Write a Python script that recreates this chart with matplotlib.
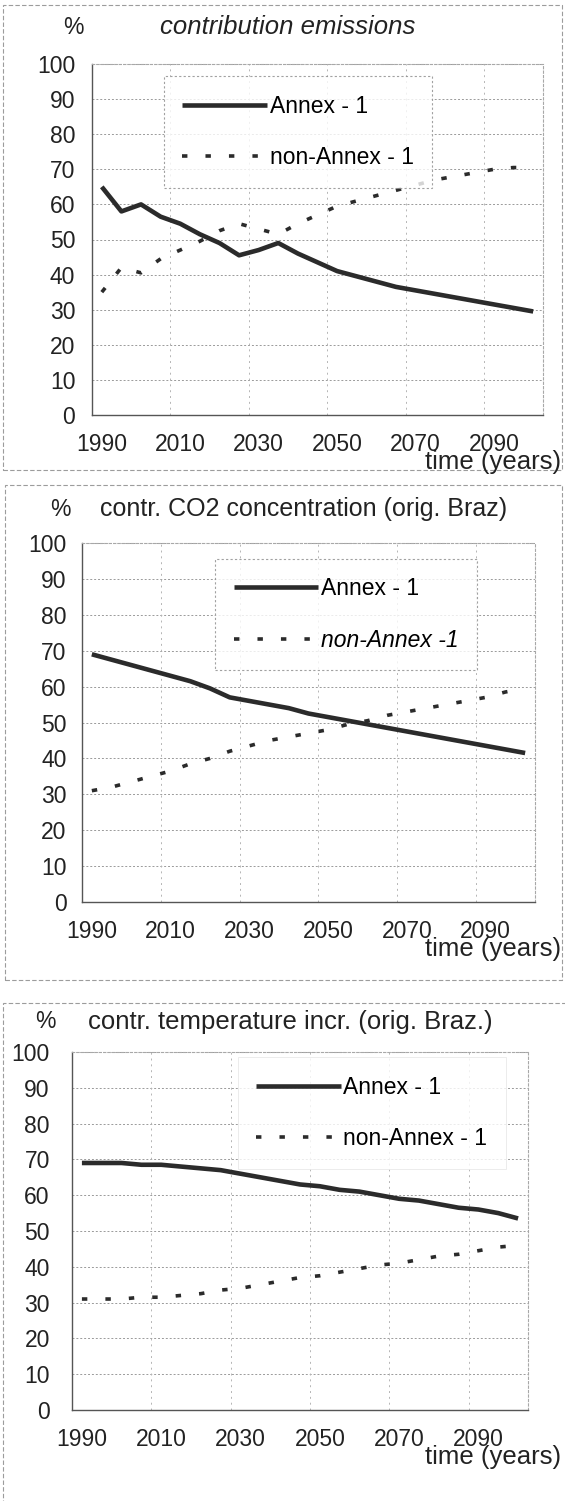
import matplotlib
matplotlib.use("Agg")
import matplotlib.pyplot as plt
from matplotlib.patches import Rectangle

plt.rcParams["font.family"] = ["Liberation Sans", "DejaVu Sans"]

# data (5-year steps)
years = list(range(1990, 2101, 5))

emis_annex = [65, 58, 60, 56.5, 54.5, 51.5, 49, 45.5, 47, 49, 46, 43.5, 41,
              39.5, 38, 36.5, 35.5, 34.5, 33.5, 32.5, 31.5, 30.5, 29.5]
emis_non_annex = [35, 42, 40.5, 44.5, 47, 49.5, 52.5, 54.5, 53, 51.5, 54.5, 57, 59.5,
                  61, 62.5, 64, 65.5, 67, 68, 69, 70, 70.5, 70.5]

co2_annex = [69, 67.5, 66, 64.5, 63, 61.5, 59.5, 57, 56, 55, 54, 52.5, 51.5,
             50.5, 49.5, 48.5, 47.5, 46.5, 45.5, 44.5, 43.5, 42.5, 41.5]
co2_non_annex = [31, 32, 33.5, 35, 36.5, 38.5, 40, 42, 43.5, 45, 46, 47, 48,
                 49.5, 50.5, 52, 53, 54, 55, 56, 57, 58.5, 59.5]

temp_annex = [69, 69, 69, 68.5, 68.5, 68, 67.5, 67, 66, 65, 64, 63, 62.5,
              61.5, 61, 60, 59, 58.5, 57.5, 56.5, 56, 55, 53.5]
temp_non_annex = [31, 31, 31, 31.5, 31.5, 32, 32.5, 33.5, 34, 35, 36, 37, 37.5,
                  38.5, 39.5, 40.5, 41, 42, 43, 43.5, 44.5, 45.5, 46]

x_ticks = [1990, 2010, 2030, 2050, 2070, 2090]
y_ticks = list(range(0, 101, 10))

W, H = 565, 1501
fig = plt.figure(figsize=(W / 100, H / 100), dpi=100)

LINE = "#2b2b2b"
GRID = "#9a9a9a"
TXT = "#222222"


def px_axes(left, top, right, bottom):
    return fig.add_axes([left / W, 1 - bottom / H, (right - left) / W, (bottom - top) / H])


def panel_box(left, top, right, bottom):
    fig.add_artist(Rectangle((left / W, 1 - bottom / H), (right - left) / W, (bottom - top) / H,
                             transform=fig.transFigure, fill=False, edgecolor="#9c9c9c",
                             linewidth=0.8, linestyle=(0, (4, 2))))


def draw_panel(ax, annex, non_annex, title, title_x, title_size, head_y, pct_x, ylab_pad,
               leg_anchor, leg_frame=True, italic_title=False, italic_second=False,
               second_label="non-Annex - 1"):
    ax.plot(years, annex, color=LINE, linewidth=3.3, solid_capstyle="butt", label="Annex - 1",
            zorder=3)
    ax.plot(years, non_annex, color=LINE, linewidth=2.6, linestyle=(0, (1.5, 5.0)),
            dash_capstyle="butt", label=second_label, zorder=3)

    ax.set_xlim(1987.5, 2102.5)
    ax.set_ylim(0, 100)
    ax.set_yticks(y_ticks)
    ax.set_xticks(x_ticks)
    ax.tick_params(axis="both", length=0, labelsize=16.5, colors=TXT)
    ax.tick_params(axis="y", pad=ylab_pad)
    ax.tick_params(axis="x", pad=13)

    for v in y_ticks[1:]:
        ax.axhline(v, color=GRID, linewidth=0.7, linestyle=(0, (2, 2)), zorder=1)
    for v in range(2007, 2090, 20):
        ax.axvline(v + 0.5, color="#b5b5b5", linewidth=0.7, linestyle=(0, (2, 4)), zorder=1)

    for side in ("top", "right"):
        ax.spines[side].set_color("#a8a8a8")
        ax.spines[side].set_linestyle((0, (2, 2)))
        ax.spines[side].set_linewidth(0.8)
    for side in ("left", "bottom"):
        ax.spines[side].set_color("#555555")
        ax.spines[side].set_linewidth(1.0)

    leg = ax.legend(loc="upper left", bbox_to_anchor=leg_anchor, borderaxespad=0,
                    frameon=True, fancybox=False, fontsize=16.5, handlelength=3.7,
                    handletextpad=0.1, labelspacing=1.25, borderpad=0.8)
    leg.get_frame().set_edgecolor("#8a8a8a" if leg_frame else "#e4e4e4")
    leg.get_frame().set_linewidth(0.8 if leg_frame else 0.6)
    leg.get_frame().set_linestyle((0, (2, 2)) if leg_frame else "-")
    if italic_second:
        leg.get_texts()[1].set_fontstyle("italic")

    fig.text(pct_x / W, 1 - head_y / H, "%", fontsize=16.5, ha="center", va="center", color=TXT)
    fig.text(title_x / W, 1 - head_y / H, title, fontsize=title_size, ha="left", va="center",
             color=TXT, fontstyle="italic" if italic_title else "normal")
    bottom_px = (1 - ax.get_position().y0) * H
    fig.text(561 / W, 1 - (bottom_px + 47) / H, "time (years)", fontsize=18.5, ha="right",
             va="center", color=TXT)


# panel borders
panel_box(3, 5, 562, 470)
panel_box(5, 485, 562, 980)
panel_box(3, 1003, 570, 1520)

ax1 = px_axes(92, 64, 543, 415)
draw_panel(ax1, emis_annex, emis_non_annex, "contribution emissions", 160, 18.5, 27, 73, 12,
           (0.16, 0.965), italic_title=True)

ax2 = px_axes(82, 543, 535, 902)
draw_panel(ax2, co2_annex, co2_non_annex, "contr. CO2 concentration (orig. Braz)", 100, 18,
           509, 60, 11, (0.294, 0.955), italic_second=True, second_label="non-Annex -1")

ax3 = px_axes(72, 1052, 528, 1410)
draw_panel(ax3, temp_annex, temp_non_annex, "contr. temperature incr. (orig. Braz.)", 88, 18.5,
           1022, 45, 16, (0.364, 0.985), leg_frame=False)

fig.savefig("out.png", dpi=100, facecolor="white")
